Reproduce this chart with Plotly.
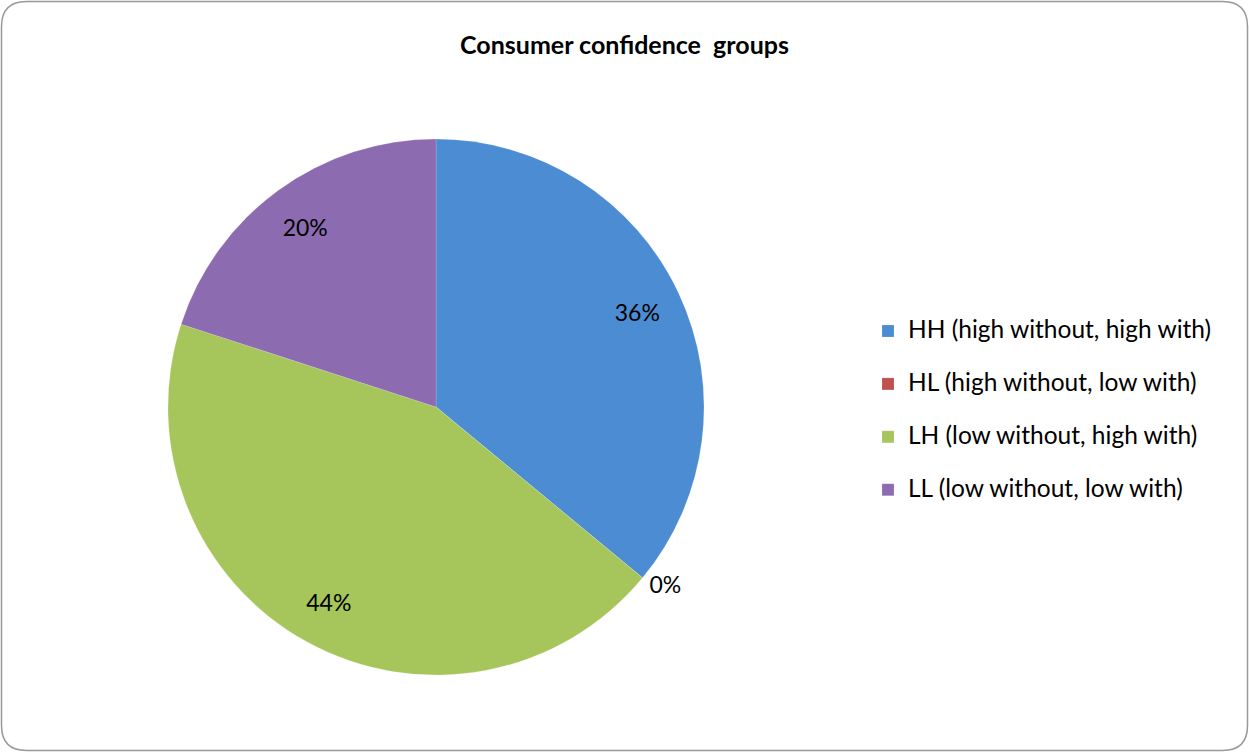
import plotly.graph_objects as go

categories = ["HH (high without, high with)", "HL (high without, low with)",
              "LH (low without, high with)", "LL (low without, low with)"]
values = [36, 0, 44, 20]
colors = ["#4B8CD2", "#C0504D", "#A6C55A", "#8C6BB0"]
text_positions = ["inside", "outside", "inside", "inside"]

W, H = 1249, 752
cx, cy, R = 436, 407, 268
FONT = "Lato, 'Open Sans', sans-serif"
domain = dict(x=[(cx - R) / W, (cx + R) / W], y=[(H - cy - R) / H, (H - cy + R) / H])

legend_labels = [f"<span style='font-size:24.5px'>{c}</span><br> " for c in categories]

fig = go.Figure()
fig.add_trace(go.Pie(
    labels=legend_labels,
    values=values,
    sort=False,
    direction="clockwise",
    rotation=0,
    marker=dict(colors=colors, line=dict(color="rgba(255,255,255,0.3)", width=0.5)),
    textinfo="none",
    domain=domain,
    hovertemplate="%{customdata}: %{percent}<extra></extra>",
    customdata=categories,
    showlegend=True,
))
# transparent ring carrying the percentage labels near the rim
fig.add_trace(go.Pie(
    labels=legend_labels,
    values=values,
    sort=False,
    direction="clockwise",
    rotation=0,
    hole=0.66,
    marker=dict(colors=["rgba(0,0,0,0)"] * len(values), line=dict(width=0)),
    texttemplate="%{percent:.0%}",
    textposition=text_positions,
    insidetextorientation="horizontal",
    textfont=dict(family=FONT, size=23, color="black"),
    domain=domain,
    hoverinfo="skip",
    showlegend=False,
))

r = 25
x0, x1 = 1.5 / W, (W - 1.5) / W
y0, y1 = 1.5 / H, (H - 1.5) / H
rx, ry = r / W, r / H
path = (f"M {x0+rx},{y1} L {x1-rx},{y1} Q {x1},{y1} {x1},{y1-ry} "
        f"L {x1},{y0+ry} Q {x1},{y0} {x1-rx},{y0} L {x0+rx},{y0} "
        f"Q {x0},{y0} {x0},{y0+ry} L {x0},{y1-ry} Q {x0},{y1} {x0+rx},{y1} Z")

fig.update_layout(
    width=W, height=H,
    margin=dict(l=0, r=0, t=0, b=0),
    paper_bgcolor="white",
    title=dict(text="<b>Consumer confidence  groups</b>", x=0.5, xanchor="center",
               y=1 - 45 / H, yanchor="middle",
               font=dict(family=FONT, size=25, color="black")),
    legend=dict(x=868 / W, xanchor="left", y=1 - 423 / H, yanchor="middle",
                valign="top", traceorder="normal",
                font=dict(family=FONT, size=19.2, color="black")),
    shapes=[dict(type="path", path=path, xref="paper", yref="paper",
                 line=dict(color="#999999", width=1.5))],
)

fig.write_html("out.html", config={"displayModeBar": False},
               post_script="document.body.style.margin='0';")
